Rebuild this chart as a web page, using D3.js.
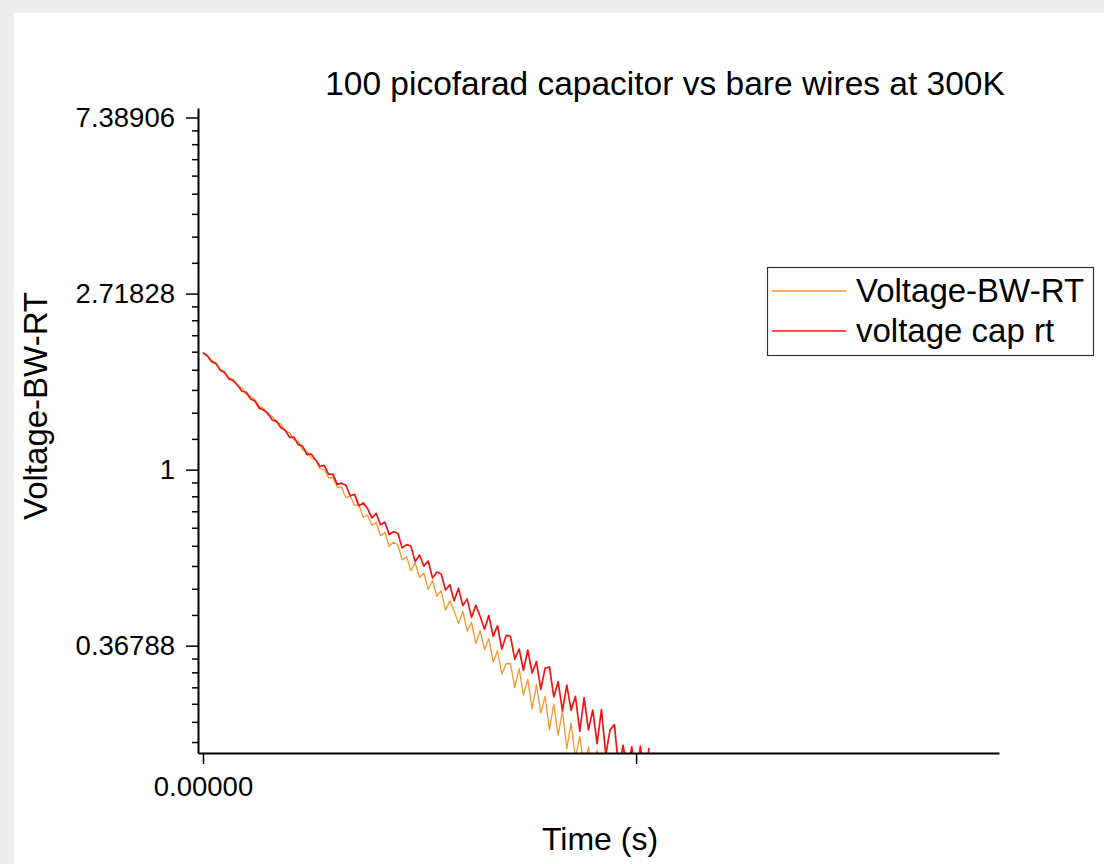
<!DOCTYPE html>
<html>
<head>
<meta charset="utf-8">
<script src="https://cdn.jsdelivr.net/npm/d3@7"></script>
<style>
  html, body { margin: 0; padding: 0; background: #ececec; }
  svg { display: block; font-family: "Liberation Sans", Arial, sans-serif; }
</style>
</head>
<body>
<svg id="chart" width="1104" height="864"></svg>
<script>
// ---------------- data ----------------
const chartTitle = "100 picofarad capacitor vs bare wires at 300K";
const xAxisTitle = "Time (s)";
const yAxisTitle = "Voltage-BW-RT";
const seriesNames = ["Voltage-BW-RT", "voltage cap rt"];

const sampleInterval = 0.000001; // seconds between samples

// Voltage-BW-RT (orange)
const voltageBW = [
  1.949, 1.913, 1.860, 1.831, 1.766, 1.743, 1.684, 1.670, 1.611, 1.592,
  1.534, 1.517, 1.487, 1.433, 1.414, 1.365, 1.354, 1.308, 1.294, 1.243,
  1.234, 1.184, 1.175, 1.119, 1.111, 1.068, 1.059, 1.004, 1.002, 0.954,
  0.957, 0.906, 0.905, 0.853, 0.861, 0.816, 0.820, 0.763, 0.772, 0.729,
  0.740, 0.687, 0.699, 0.647, 0.662, 0.652, 0.599, 0.610, 0.563, 0.589,
  0.542, 0.556, 0.506, 0.533, 0.487, 0.503, 0.450, 0.475, 0.448, 0.417,
  0.447, 0.400, 0.420, 0.372, 0.401, 0.360, 0.383, 0.335, 0.358, 0.313,
  0.332, 0.332, 0.290, 0.323, 0.278, 0.304, 0.257, 0.295, 0.251, 0.276,
  0.228, 0.264, 0.221, 0.254, 0.205, 0.237, 0.194, 0.220, 0.184, 0.207,
  0.177, 0.203, 0.172, 0.197
];

// voltage cap rt (red)
const voltageCap = [
  1.943, 1.910, 1.846, 1.826, 1.759, 1.734, 1.674, 1.657, 1.614, 1.561,
  1.552, 1.494, 1.476, 1.417, 1.403, 1.378, 1.325, 1.317, 1.269, 1.251,
  1.201, 1.203, 1.152, 1.143, 1.089, 1.093, 1.057, 1.019, 1.024, 0.974,
  0.975, 0.920, 0.926, 0.915, 0.862, 0.869, 0.814, 0.828, 0.801, 0.760,
  0.780, 0.731, 0.742, 0.692, 0.703, 0.697, 0.641, 0.653, 0.648, 0.593,
  0.616, 0.578, 0.595, 0.540, 0.559, 0.553, 0.505, 0.520, 0.475, 0.510,
  0.462, 0.480, 0.432, 0.463, 0.435, 0.404, 0.437, 0.388, 0.412, 0.361,
  0.390, 0.388, 0.341, 0.361, 0.320, 0.359, 0.315, 0.336, 0.287, 0.324,
  0.326, 0.275, 0.300, 0.254, 0.294, 0.255, 0.276, 0.226, 0.274, 0.228,
  0.255, 0.211, 0.256, 0.198, 0.228, 0.235, 0.182, 0.209, 0.180, 0.207,
  0.172, 0.208, 0.168, 0.206
];

// axis ticks
const yMajorTicks = [0.36788, 1, 2.71828, 7.38906];
const yMajorLabels = ["0.36788", "1", "2.71828", "7.38906"];
const yMinorBase = 0.13534; // e^-2, the decade below the lowest label
const yDomain = [0.2, 7.8];
const xTickValues = [0, 0.0001];
const xTickLabels = ["0.00000", ""];
const xDomain = [-0.00000115, 0.0001838];

const seriesColors = ["#f5962a", "#f01414"];

// ---------------- layout ----------------
const svg = d3.select("#chart");
const plot = { left: 198, right: 999, top: 108, bottom: 753 };

// backdrop: gray page with white panel
svg.append("rect").attr("x", 0).attr("y", 0).attr("width", 1104).attr("height", 864).attr("fill", "#ececec");
svg.append("rect").attr("x", 14).attr("y", 13).attr("width", 1090).attr("height", 851).attr("fill", "#ffffff");

const x = d3.scaleLinear().domain(xDomain).range([plot.left, plot.right]);
const y = d3.scaleLog().domain(yDomain).range([plot.bottom, plot.top]);

// minor ticks: 8 linear subdivisions between consecutive e-powers
const allMajors = [yMinorBase].concat(yMajorTicks);
const yMinorTicks = [];
for (let k = 0; k < allMajors.length - 1; k++) {
  const a = allMajors[k], b = allMajors[k + 1];
  for (let j = 1; j <= 8; j++) {
    const v = a + (b - a) * j / 9;
    if (v >= yDomain[0] && v <= yDomain[1]) yMinorTicks.push(v);
  }
}

// clip
svg.append("defs").append("clipPath").attr("id", "plotclip")
  .append("rect").attr("x", plot.left).attr("y", plot.top)
  .attr("width", plot.right - plot.left).attr("height", plot.bottom - plot.top);

// data lines
const series = [voltageBW, voltageCap];
const line = d3.line()
  .x((d, i) => x(i * sampleInterval))
  .y(d => y(d));

const gLines = svg.append("g").attr("clip-path", "url(#plotclip)");
series.forEach((vals, si) => {
  gLines.append("path")
    .datum(vals)
    .attr("d", line)
    .attr("fill", "none")
    .attr("stroke", seriesColors[si])
    .attr("stroke-width", si === 0 ? 1.3 : 1.7)
    .attr("stroke-linejoin", "round");
});

// y axis (minor ticks)
svg.append("g")
  .attr("transform", `translate(${plot.left},0)`)
  .call(d3.axisLeft(y).tickValues(yMinorTicks).tickSize(6).tickSizeOuter(0).tickFormat(""))
  .call(g => g.select(".domain").remove())
  .call(g => g.selectAll("line").attr("stroke", "#000").attr("stroke-width", 1.5));

// y axis (major)
svg.append("g")
  .attr("transform", `translate(${plot.left},0)`)
  .call(d3.axisLeft(y).tickValues(yMajorTicks).tickSize(12).tickSizeOuter(0).tickPadding(11)
    .tickFormat((d, i) => yMajorLabels[i]))
  .call(g => g.select(".domain").attr("stroke", "#000").attr("stroke-width", 2))
  .call(g => g.selectAll("line").attr("stroke", "#000").attr("stroke-width", 1.5))
  .call(g => g.selectAll("text").attr("font-size", 27.5).attr("fill", "#000")
    .attr("font-family", "Liberation Sans, Arial, sans-serif"));

// x axis
svg.append("g")
  .attr("transform", `translate(0,${plot.bottom})`)
  .call(d3.axisBottom(x).tickValues(xTickValues).tickSize(11).tickSizeOuter(0).tickPadding(12)
    .tickFormat((d, i) => xTickLabels[i]))
  .call(g => g.select(".domain").attr("stroke", "#000").attr("stroke-width", 2.2))
  .call(g => g.selectAll("line").attr("stroke", "#000").attr("stroke-width", 1.5))
  .call(g => g.selectAll("text").attr("font-size", 27.5).attr("fill", "#000")
    .attr("font-family", "Liberation Sans, Arial, sans-serif"));

// title
svg.append("text")
  .attr("x", 665).attr("y", 95)
  .attr("text-anchor", "middle")
  .attr("font-size", 33.5)
  .attr("fill", "#000")
  .text(chartTitle);

// axis titles
svg.append("text")
  .attr("x", 600).attr("y", 850)
  .attr("text-anchor", "middle")
  .attr("font-size", 32)
  .attr("fill", "#000")
  .text(xAxisTitle);

svg.append("text")
  .attr("transform", "translate(47,406) rotate(-90)")
  .attr("text-anchor", "middle")
  .attr("font-size", 33)
  .attr("fill", "#000")
  .text(yAxisTitle);

// legend
const legend = svg.append("g");
legend.append("rect")
  .attr("x", 767.5).attr("y", 267.5).attr("width", 326).attr("height", 88)
  .attr("fill", "#fff").attr("stroke", "#333").attr("stroke-width", 1.2);
seriesNames.forEach((name, i) => {
  const cy = 291 + i * 40;
  legend.append("line")
    .attr("x1", 772).attr("x2", 846).attr("y1", cy).attr("y2", cy)
    .attr("stroke", seriesColors[i]).attr("stroke-width", 1.3);
  legend.append("text")
    .attr("x", 856).attr("y", cy + 11)
    .attr("font-size", 33)
    .attr("fill", "#000")
    .text(name);
});
</script>
</body>
</html>
